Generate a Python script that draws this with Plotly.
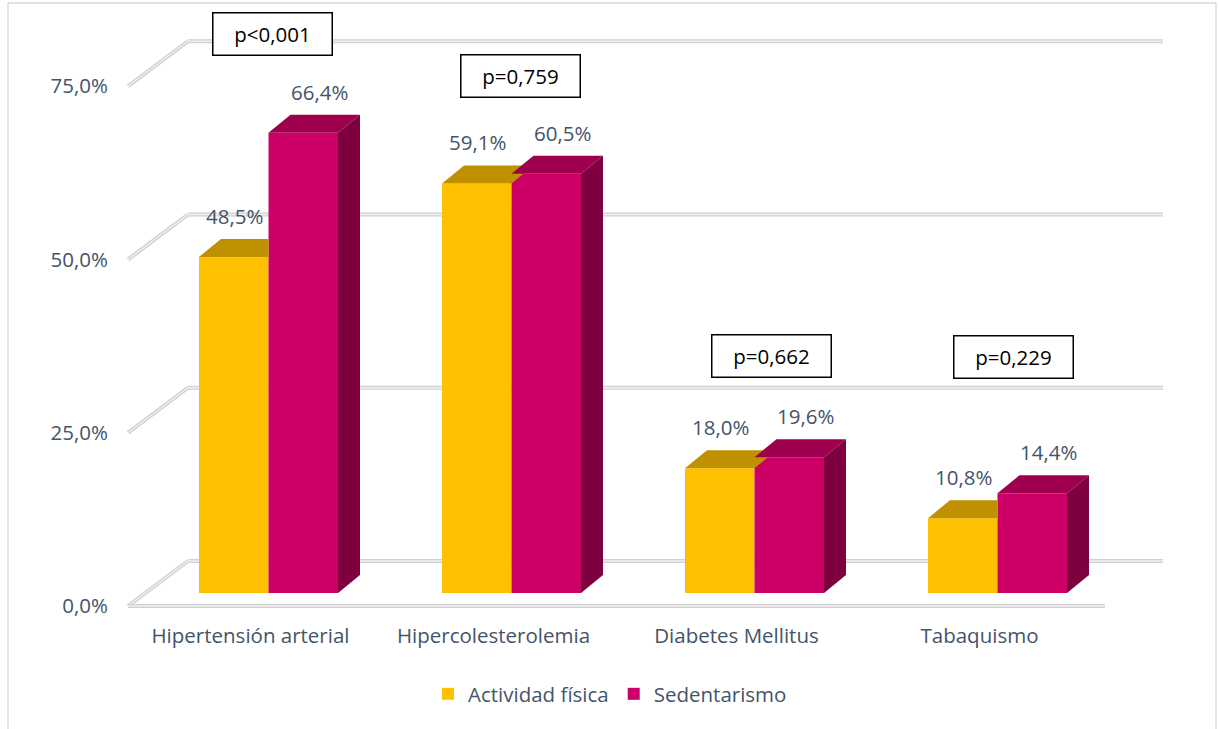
import plotly.graph_objects as go

# ---- data -------------------------------------------------------------
categories = ["Hipertensión arterial", "Hipercolesterolemia", "Diabetes Mellitus", "Tabaquismo"]
actividad = [48.5, 59.1, 18.0, 10.8]
sedentarismo = [66.4, 60.5, 19.6, 14.4]
p_values = ["p<0,001", "p=0,759", "p=0,662", "p=0,229"]
grid_values = [0, 25, 50, 75]
grid_labels = ["0,0%", "25,0%", "50,0%", "75,0%"]
series_names = ["Actividad física", "Sedentarismo"]

# ---- styling ----------------------------------------------------------
YELLOW = dict(front="#FFC000", top="#BF9000", side="#9C7500")
PINK = dict(front="#CC0066", top="#9E004E", side="#7E003F")
TEXT = "#44546A"
FONT = "Open Sans"
FS = 20.5

W, H = 1218, 729
M = dict(l=115, r=8, t=5, b=119)
PLOT_W = W - M["l"] - M["r"]
PLOT_H = H - M["t"] - M["b"]
PX_X = 243.0   # pixels per category step
PX_Y = 6.93    # pixels per percentage point
FIRST_GROUP_PX = 268.5
ZERO_PX = 593


def ux(px):
    return px / PX_X


def uy(px):
    return px / PX_Y


x_lo = -(FIRST_GROUP_PX - M["l"]) / PX_X
x_hi = x_lo + PLOT_W / PX_X
y_hi = (ZERO_PX - M["t"]) / PX_Y
y_lo = -(M["t"] + PLOT_H - ZERO_PX) / PX_Y

BW = ux(69.5)      # bar width
DX = ux(22)        # depth offset (x)
DY = uy(18)        # depth offset (y)
FRONT_DY = -uy(13)  # front wall offset
BACK_DY = uy(32)    # back wall offset
WALL_FRONT_X = ux(128 - FIRST_GROUP_PX)
WALL_BACK_X = ux(188 - FIRST_GROUP_PX)
BACK_RIGHT_X = ux(1163 - FIRST_GROUP_PX)
FLOOR_RIGHT_X = ux(1105 - FIRST_GROUP_PX)

idx = list(range(len(categories)))
fig = go.Figure()


def face(xs, ys, color):
    fig.add_trace(go.Scatter(
        x=xs + [xs[0]], y=ys + [ys[0]], mode="lines", fill="toself",
        fillcolor=color, line=dict(width=0, color=color),
        hoverinfo="skip", showlegend=False))


# front faces as real bars
fig.add_trace(go.Bar(x=idx, y=actividad, offset=-BW, width=BW, name=series_names[0],
                     marker=dict(color=YELLOW["front"], line=dict(width=0))))
fig.add_trace(go.Bar(x=idx, y=sedentarismo, offset=0, width=BW, name=series_names[1],
                     marker=dict(color=PINK["front"], line=dict(width=0))))

# top and side faces derived from the same values
for i, (a, s) in enumerate(zip(actividad, sedentarismo)):
    x0, x1 = i - BW, i
    if s >= a + DY:
        face([x0, x1, x1, x0 + DX], [a, a, a + DY, a + DY], YELLOW["top"])
    else:
        face([x0, x1, x1 + DX, x0 + DX], [a, a, a + DY, a + DY], YELLOW["top"])
    x0, x1 = i, i + BW
    face([x0, x1, x1 + DX, x0 + DX], [s, s, s + DY, s + DY], PINK["top"])
    face([x1, x1, x1 + DX, x1 + DX], [0, s, s + DY, DY], PINK["side"])

# gridlines: left wall diagonals + back wall horizontals, plus floor front edge
shapes = []


def grid_line(x0, y0, x1, y1):
    shapes.append(dict(type="line", xref="x", yref="y", x0=x0, y0=y0, x1=x1, y1=y1,
                       layer="below", line=dict(color="#D0D0D0", width=4)))
    shapes.append(dict(type="line", xref="x", yref="y", x0=x0, y0=y0, x1=x1, y1=y1,
                       layer="below", line=dict(color="#F0F0F0", width=1.3)))


for g in grid_values:
    yf, yb = g + FRONT_DY, g + BACK_DY
    grid_line(WALL_FRONT_X, yf, WALL_BACK_X, yb)
    grid_line(WALL_BACK_X, yb, BACK_RIGHT_X, yb)
grid_line(WALL_FRONT_X, FRONT_DY, FLOOR_RIGHT_X, FRONT_DY)


# chart border
def px_to_paper_x(px):
    return (px - M["l"]) / PLOT_W


def px_to_paper_y(py):
    return (M["t"] + PLOT_H - py) / PLOT_H


shapes.append(dict(type="rect", xref="paper", yref="paper",
                   x0=px_to_paper_x(8), x1=px_to_paper_x(1216),
                   y0=px_to_paper_y(740), y1=px_to_paper_y(3),
                   line=dict(color="#D9D9D9", width=1.3), layer="below"))

annotations = []
# value labels
for i, (a, s) in enumerate(zip(actividad, sedentarismo)):
    for v, xc in ((a, i - BW / 2 + ux(1)), (s, i + BW / 2 + ux(16))):
        annotations.append(dict(x=xc, y=v, xref="x", yref="y", yshift=41,
                                text=f"{v:.1f}%".replace(".", ","), showarrow=False,
                                font=dict(family=FONT, size=FS, color=TEXT)))

# p-value boxes
p_pos = [(ux(4), uy(593 - 34)), (ux(8.5), uy(593 - 76)),
         (ux(16.5), uy(593 - 355.5)), (ux(16), uy(593 - 356.5))]
for i, (txt, (ox, yv)) in enumerate(zip(p_values, p_pos)):
    annotations.append(dict(x=i + ox, y=yv, xref="x", yref="y", text=txt, showarrow=False,
                            width=118, height=41, borderpad=0, bgcolor="white",
                            bordercolor="black", borderwidth=1.5,
                            font=dict(family=FONT, size=FS, color="black")))

fig.update_layout(
    width=W, height=H, margin=M,
    paper_bgcolor="white", plot_bgcolor="white",
    barmode="overlay",
    font=dict(family=FONT, size=FS, color=TEXT),
    shapes=shapes, annotations=annotations,
    xaxis=dict(range=[x_lo, x_hi], showgrid=False, zeroline=False, showline=False,
               tickvals=[i + ux(-18) for i in idx], ticktext=categories, ticks="",
               ticklabelstandoff=11, fixedrange=True),
    yaxis=dict(range=[y_lo, y_hi], showgrid=False, zeroline=False, showline=False,
               tickvals=[g + FRONT_DY for g in grid_values], ticktext=grid_labels,
               ticks="", ticklabelstandoff=6, fixedrange=True),
    legend=dict(orientation="h", xanchor="center", yanchor="middle",
                x=px_to_paper_x(610), y=px_to_paper_y(694), itemwidth=30,
                font=dict(family=FONT, size=FS, color=TEXT), itemclick=False),
    showlegend=True,
)

fig.write_html("out.html")
